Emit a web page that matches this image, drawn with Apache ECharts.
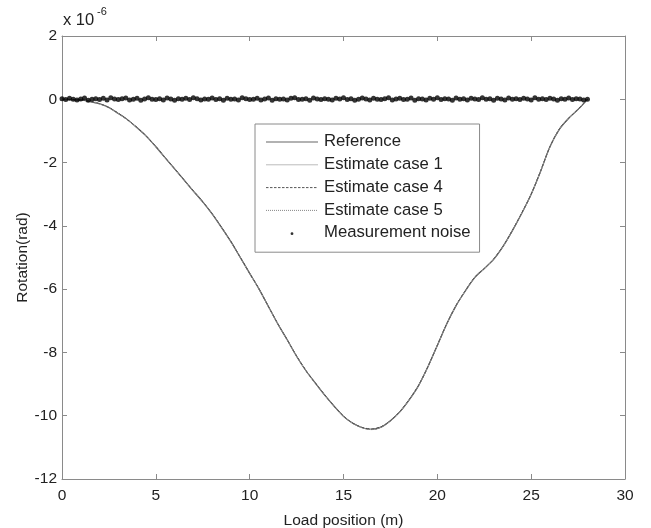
<!DOCTYPE html>
<html>
<head>
<meta charset="utf-8">
<script src="https://cdn.jsdelivr.net/npm/echarts@6/dist/echarts.min.js"></script>
<style>html,body{margin:0;padding:0;background:#fff}#c{width:651px;height:528px}</style>
</head>
<body>
<div id="c"></div>
<script>
// Load position (m)
var posX = [0, 1, 1.5, 2, 2.5, 3, 3.5, 4, 4.5, 5, 5.5, 6, 6.5, 7, 7.5, 8, 8.5, 9, 9.5, 10,
  10.5, 11, 11.5, 12, 12.5, 13, 13.5, 14, 14.5, 15, 15.5, 16, 16.5, 17, 17.5, 18, 18.5, 19, 19.5, 20,
  20.5, 21, 21.5, 22, 22.5, 23, 23.5, 24, 24.5, 25, 25.5, 26, 26.5, 27, 27.5, 28];
// Rotation (x 1e-6 rad)
var reference = [0, -0.02, -0.07, -0.14, -0.26, -0.45, -0.65, -0.9, -1.17, -1.5, -1.85, -2.2, -2.55, -2.9, -3.24, -3.62, -4.05, -4.5, -5.0, -5.5,
  -6.0, -6.55, -7.1, -7.6, -8.12, -8.58, -8.97, -9.35, -9.7, -10.02, -10.24, -10.38, -10.43, -10.36, -10.16, -9.88, -9.5, -9.05, -8.45, -7.78,
  -7.1, -6.52, -6.05, -5.63, -5.35, -5.06, -4.65, -4.15, -3.6, -3.0, -2.28, -1.5, -0.95, -0.6, -0.32, 0];
var estimate1 = [0, -0.02, -0.07, -0.15, -0.27, -0.45, -0.66, -0.9, -1.18, -1.5, -1.86, -2.2, -2.56, -2.9, -3.25, -3.63, -4.05, -4.51, -5.0, -5.51,
  -6.0, -6.56, -7.1, -7.61, -8.12, -8.58, -8.98, -9.35, -9.71, -10.02, -10.25, -10.38, -10.44, -10.36, -10.17, -9.88, -9.5, -9.05, -8.46, -7.78,
  -7.11, -6.52, -6.05, -5.63, -5.36, -5.06, -4.66, -4.15, -3.6, -3.01, -2.28, -1.51, -0.95, -0.6, -0.32, 0];
var estimate4 = [0, -0.02, -0.07, -0.14, -0.26, -0.44, -0.65, -0.89, -1.17, -1.49, -1.85, -2.19, -2.55, -2.89, -3.24, -3.62, -4.04, -4.5, -4.99, -5.5,
  -5.99, -6.55, -7.09, -7.6, -8.11, -8.57, -8.97, -9.34, -9.7, -10.01, -10.24, -10.37, -10.42, -10.35, -10.16, -9.87, -9.49, -9.04, -8.45, -7.77,
  -7.1, -6.51, -6.04, -5.62, -5.35, -5.05, -4.65, -4.14, -3.59, -3.0, -2.27, -1.5, -0.94, -0.6, -0.31, 0];
var estimate5 = [0, -0.02, -0.07, -0.14, -0.26, -0.45, -0.65, -0.9, -1.17, -1.5, -1.85, -2.2, -2.55, -2.9, -3.24, -3.62, -4.05, -4.5, -5.0, -5.5,
  -6.0, -6.55, -7.1, -7.6, -8.12, -8.58, -8.97, -9.35, -9.7, -10.02, -10.24, -10.38, -10.43, -10.36, -10.16, -9.88, -9.5, -9.05, -8.45, -7.78,
  -7.1, -6.52, -6.05, -5.63, -5.35, -5.06, -4.65, -4.15, -3.6, -3.0, -2.28, -1.5, -0.95, -0.6, -0.32, 0];
// Measurement noise samples every 0.2 m from 0 to 28 m (x 1e-6 rad)
var noiseStep = 0.2;
var noise = [0.02,-0.01,0.03,0.00,-0.02,0.01,0.04,-0.03,0.00,0.02,
  -0.01,0.03,-0.02,0.05,0.01,-0.01,0.02,0.04,-0.02,0.00,
  0.03,-0.03,0.01,0.05,0.00,-0.01,0.02,-0.02,0.04,0.01,
  -0.03,0.02,0.00,0.03,-0.01,0.05,0.02,-0.02,0.01,0.00,
  0.04,-0.01,0.02,-0.03,0.03,0.00,0.01,-0.02,0.05,0.02,
  -0.01,0.00,0.03,-0.02,0.01,0.04,-0.03,0.02,0.00,0.01,
  -0.02,0.03,0.05,-0.01,0.00,0.02,-0.03,0.04,0.01,-0.01,
  0.02,0.00,-0.02,0.03,0.01,0.05,-0.01,0.02,-0.03,0.00,
  0.04,0.01,-0.02,0.03,0.00,-0.01,0.02,0.05,-0.02,0.01,
  0.03,-0.01,0.00,0.04,-0.03,0.02,0.01,-0.02,0.03,0.00,
  0.05,-0.01,0.02,0.01,-0.03,0.04,0.00,0.02,-0.02,0.03,
  0.01,-0.01,0.05,0.00,0.02,-0.03,0.03,0.01,-0.02,0.04,
  0.00,0.02,-0.01,0.03,0.01,-0.02,0.05,0.00,0.02,-0.01,
  0.03,0.01,-0.03,0.02,0.00,0.04,-0.01,0.02,0.01,-0.02,
  0.00];
var xTicks = [0, 5, 10, 15, 20, 25, 30];
var yTicks = [-12, -10, -8, -6, -4, -2, 0, 2];
var seriesNames = ['Reference', 'Estimate case 1', 'Estimate case 4', 'Estimate case 5', 'Measurement noise'];

function pairs(xs, ys) { return xs.map(function (x, i) { return [x, ys[i]]; }); }
var noisePts = noise.map(function (v, i) { return [Math.round(i * noiseStep * 10) / 10, v]; });

var FONT = '"Liberation Sans", Arial, Helvetica, sans-serif';
var AX = '#8a8a8a';
var TXT = '#222';
function svgIcon(inner) {
  return 'image://data:image/svg+xml;utf8,' + encodeURIComponent('<svg xmlns="http://www.w3.org/2000/svg" width="52" height="14" viewBox="0 0 52 14">' + inner + '</svg>');
}
var iconRef = svgIcon('<line x1="0" y1="7.5" x2="52" y2="7.5" stroke="#666" stroke-width="1.2"/>');
var iconE1 = svgIcon('<line x1="0" y1="7.5" x2="52" y2="7.5" stroke="#bbb" stroke-width="1"/>');
var iconE4 = svgIcon('<line x1="0" y1="7.5" x2="52" y2="7.5" stroke="#555" stroke-width="1" stroke-dasharray="2.5,1.5"/>');
var iconE5 = svgIcon('<line x1="0" y1="7.5" x2="52" y2="7.5" stroke="#888" stroke-width="1" stroke-dasharray="1,1"/>');
var iconDot = svgIcon('<circle cx="26" cy="8" r="1.4" fill="#000"/>');

var chart = echarts.init(document.getElementById('c'), null, { renderer: 'canvas' });
var baseX = {
  type: 'value', min: xTicks[0], max: xTicks[xTicks.length - 1], interval: 5,
  axisLine: { onZero: false, lineStyle: { color: AX, width: 1 } },
  axisTick: { inside: true, length: 5, lineStyle: { color: AX } },
  splitLine: { show: false }
};
var baseY = {
  type: 'value', min: yTicks[0], max: yTicks[yTicks.length - 1], interval: 2,
  axisLine: { onZero: false, lineStyle: { color: AX, width: 1 } },
  axisTick: { inside: true, length: 5, lineStyle: { color: AX } },
  splitLine: { show: false }
};
chart.setOption({
  animation: false,
  backgroundColor: '#fff',
  textStyle: { fontFamily: FONT },
  grid: { left: 62, right: 26, top: 36, bottom: 49, containLabel: false, outerBoundsMode: 'none' },
  xAxis: [
    Object.assign({}, baseX, {
      position: 'bottom',
      name: 'Load position (m)', nameLocation: 'middle', nameGap: 34,
      nameTextStyle: { fontSize: 15.5, color: TXT, fontFamily: FONT },
      axisLabel: { margin: 9, fontSize: 15.5, color: TXT, fontFamily: FONT }
    }),
    Object.assign({}, baseX, { position: 'top', axisLabel: { show: false } })
  ],
  yAxis: [
    Object.assign({}, baseY, {
      position: 'left',
      name: 'Rotation(rad)', nameLocation: 'middle', nameGap: 31, nameRotate: 90, nameMoveOverlap: false,
      nameTextStyle: { fontSize: 15.5, color: TXT, fontFamily: FONT },
      axisLabel: { margin: 5, fontSize: 15.5, color: TXT, fontFamily: FONT }
    }),
    Object.assign({}, baseY, { position: 'right', axisLabel: { show: false } })
  ],
  legend: {
    orient: 'vertical', left: 255, top: 124,
    padding: [9, 9, 11, 11], itemGap: 5.8, itemWidth: 52, itemHeight: 14,
    backgroundColor: '#fff', borderColor: '#8a8a8a', borderWidth: 1,
    textStyle: { fontSize: 16.7, color: TXT, fontFamily: FONT, padding: [0, 0, 0, 1] },
    data: [
      { name: seriesNames[0], icon: iconRef }, { name: seriesNames[1], icon: iconE1 },
      { name: seriesNames[2], icon: iconE4 }, { name: seriesNames[3], icon: iconE5 },
      { name: seriesNames[4], icon: iconDot }
    ]
  },
  graphic: [
    { type: 'text', left: 63, top: 12, style: { text: 'x 10', font: '16.5px ' + FONT, fill: TXT } },
    { type: 'text', left: 97, top: 6, style: { text: '-6', font: '11px ' + FONT, fill: TXT } }
  ],
  series: [
    { name: seriesNames[0], type: 'line', data: pairs(posX, reference), symbol: 'none', smooth: 0.3,
      lineStyle: { color: '#333', width: 1.2 }, itemStyle: { color: '#333' }, z: 2 },
    { name: seriesNames[1], type: 'line', data: pairs(posX, estimate1), symbol: 'none', smooth: 0.3,
      lineStyle: { color: '#b0b0b0', width: 1 }, itemStyle: { color: '#b0b0b0' }, z: 3 },
    { name: seriesNames[2], type: 'line', data: pairs(posX, estimate4), symbol: 'none', smooth: 0.3,
      lineStyle: { color: '#444', width: 1, type: [3, 2] }, itemStyle: { color: '#444' }, z: 4 },
    { name: seriesNames[3], type: 'line', data: pairs(posX, estimate5), symbol: 'none', smooth: 0.3,
      lineStyle: { color: '#777', width: 1, type: [1, 1] }, itemStyle: { color: '#777' }, z: 5 },
    { name: seriesNames[4], type: 'scatter', data: noisePts, symbol: 'circle', symbolSize: 5,
      itemStyle: { color: '#000' }, z: 6 }
  ]
});
</script>
</body>
</html>
